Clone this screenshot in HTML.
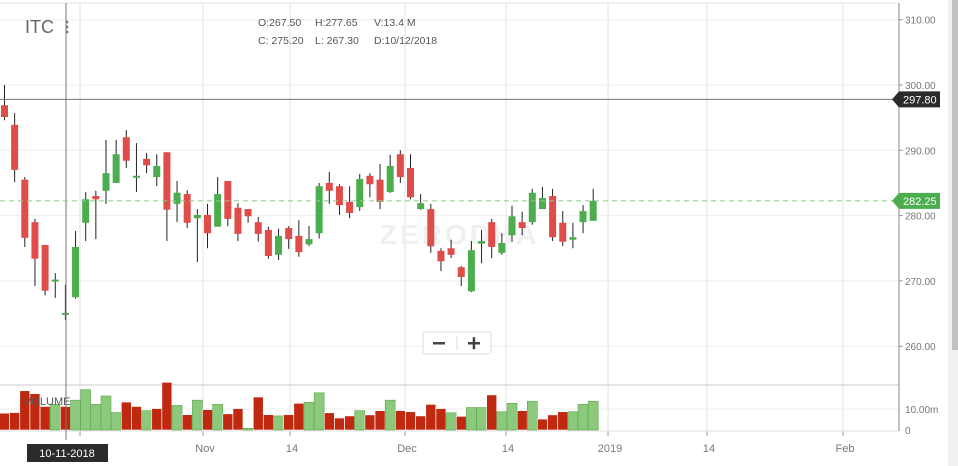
<!DOCTYPE html>
<html><head><meta charset="utf-8"><style>
body{margin:0;background:#fff;font-family:"Liberation Sans",sans-serif;}
#wrap{position:relative;width:958px;height:466px;overflow:hidden;background:#fff}
svg text{font-family:"Liberation Sans",sans-serif}
</style></head><body>
<div id="wrap">
<svg id="chart" width="958" height="466"></svg>
</div>
<script>
const opens=[296.9,293.9,285.5,279.0,275.5,270.0,264.9,267.5,278.9,283.0,283.8,285.0,292.0,286.1,288.7,285.9,289.7,281.8,283.3,279.6,280.1,278.3,285.3,281.2,281.0,279.0,277.8,274.0,278.1,276.9,275.6,277.3,285.0,284.5,282.1,281.3,286.1,285.5,283.6,289.4,287.3,281.0,281.0,274.6,275.0,272.1,268.4,275.7,279.0,274.3,277.0,279.0,279.0,281.0,283.0,278.9,276.3,279.0,279.2];
const highs=[300.0,295.7,285.9,279.5,275.5,271.2,269.4,277.65,283.6,283.8,291.6,291.6,293.1,291.1,289.6,289.4,289.7,285.3,283.9,281.0,281.8,285.9,285.3,281.9,281.0,279.8,278.3,278.0,278.4,279.3,278.4,285.0,286.7,284.8,284.5,286.4,286.5,287.9,289.3,290.0,289.4,283.3,281.8,275.0,276.3,272.3,276.1,277.8,279.5,277.3,281.5,280.6,284.1,284.4,284.1,280.7,278.9,281.6,284.1];
const lows=[294.6,285.1,275.2,269.2,267.8,267.4,264.0,267.3,276.1,276.4,281.8,285.0,287.3,283.6,286.5,284.5,276.1,279.0,278.1,272.9,275.0,278.3,278.4,276.1,278.9,276.0,273.4,273.2,274.9,273.7,275.3,276.5,281.8,280.1,279.6,280.7,282.8,281.0,283.5,285.0,282.5,280.9,274.3,271.5,273.5,269.2,268.3,272.7,273.5,274.0,276.0,277.0,278.6,281.0,276.1,275.3,275.0,277.3,279.2];
const closes=[295.1,287.0,276.6,273.4,268.5,270.2,265.1,275.2,282.5,282.5,286.5,289.4,288.4,286.1,287.7,287.6,280.9,283.5,278.9,280.1,277.3,283.3,279.5,277.2,279.9,277.2,273.8,276.9,276.4,274.4,276.4,284.5,283.8,281.6,280.4,285.6,284.8,282.1,287.6,285.9,282.8,281.9,275.3,273.0,274.0,270.6,274.7,276.1,275.2,275.8,279.9,278.1,283.5,282.7,276.7,276.0,276.7,280.7,282.25];
const volumes=[8.0,8.3,18.7,17.3,11.2,12.2,11.2,14.2,19.2,12.2,16.2,8.3,13.3,11.2,9.2,10.2,22.7,11.7,7.3,14.2,9.7,12.2,7.7,10.2,0.8,15.7,7.3,6.7,7.3,12.7,13.2,17.7,8.2,5.7,6.7,9.2,7.2,9.2,14.2,9.2,8.7,6.7,12.2,10.2,8.2,6.5,10.7,10.7,16.7,8.7,12.7,9.2,13.7,5.2,7.2,8.7,8.7,12.2,13.7];
const volUp=[0,0,0,0,0,1,0,1,1,1,1,1,0,0,1,0,0,1,0,1,0,1,0,0,1,0,0,1,0,0,1,1,0,0,0,1,0,0,1,0,0,0,0,0,1,0,1,1,0,1,1,0,1,0,0,0,1,1,1];
const priceTicks=[310,300,290,280,270,260];
const dateLabels=["14","Nov","14","Dec","14","2019","14","Feb"];
const dateIndex=[7.44,19.56,28.13,39.46,49.41,59.46,69.21,82.61];

const svg=document.getElementById('chart');
const NS='http://www.w3.org/2000/svg';
function mk(t,a,parent){const e=document.createElementNS(NS,t);for(const k in a)e.setAttribute(k,a[k]);(parent||svg).appendChild(e);return e;}
const yP=p=>85+(300-p)*6.53;
const xI=i=>4.5+i*10.15;
const yV=v=>430-v*2.1;

let e=mk('line',{x1:0,y1:3,x2:899,y2:3,stroke:'#e6e6e6'});

priceTicks.forEach(p=>{
 let g=mk('line',{x1:0,y1:yP(p),x2:899,y2:yP(p),stroke:'#eeeeee'});
 
 let t=mk('text',{x:905,y:yP(p)+4,'font-size':10,fill:'#777'});t.textContent=p.toFixed(2);
 
 let tk=mk('line',{x1:899,y1:yP(p),x2:903,y2:yP(p),stroke:'#999'});
 
});
dateLabels.forEach((d,k)=>{
 const x=xI(dateIndex[k]);
 let g=mk('line',{x1:x,y1:3,x2:x,y2:430,stroke:'#e3e3e3'});
 
 let tk=mk('line',{x1:x,y1:431,x2:x,y2:436,stroke:'#999'});
 
 let t=mk('text',{x:x+2,y:452,'font-size':11,fill:'#777','text-anchor':'middle'});t.textContent=d;
 
});
e=mk('line',{x1:0,y1:385,x2:899,y2:385,stroke:'#c8c8c8'});

e=mk('line',{x1:0,y1:yV(10),x2:899,y2:yV(10),stroke:'#eeeeee'});

e=mk('line',{x1:0,y1:431,x2:899,y2:431,stroke:'#e0e0e0'});

e=mk('text',{x:905,y:yV(10)+4,'font-size':10,fill:'#777'});e.textContent='10.00m';

e=mk('text',{x:905,y:434,'font-size':10,fill:'#777'});e.textContent='0';

e=mk('line',{x1:899,y1:3,x2:899,y2:431,stroke:'#888'});

e=mk('text',{x:380,y:244,'font-size':28,fill:'#f0f0f0','font-weight':'bold','letter-spacing':'3'});e.textContent='ZERODHA';

volumes.forEach((v,i)=>{
 const x=xI(i);
 let b=mk('rect',{x:x-5,y:yV(v),width:10,height:430-yV(v),fill:volUp[i]?'#8cc97c':'#c0290f',stroke:volUp[i]?'#5aa84a':'#fff','stroke-width':0.6});
 
});
e=mk('text',{x:24,y:405,'font-size':11,fill:'#555'});e.textContent='VOLUME';

opens.forEach((o,i)=>{
 const c=closes[i],x=xI(i),up=c>=o;
 const col=up?'#4cad4e':'#e04c4a';
 let w=mk('line',{x1:x,y1:yP(highs[i]),x2:x,y2:yP(lows[i]),stroke:'#222','stroke-width':1});
 
 const top=yP(Math.max(o,c)),h=Math.max(2,Math.abs(yP(o)-yP(c)));
 let b=mk('rect',{x:x-3.5,y:top,width:7,height:h,fill:col});
 
});
e=mk('line',{x1:66,y1:3,x2:66,y2:440,stroke:'#777'});

e=mk('line',{x1:0,y1:yP(297.8),x2:899,y2:yP(297.8),stroke:'#777'});

e=mk('line',{x1:0,y1:yP(282.25),x2:893,y2:yP(282.25),stroke:'#8ccc8c','stroke-dasharray':'5,4'});

function tag(p,fill,name){
 const y=yP(p);
 let g=mk('path',{d:`M892 ${y} L899 ${y-8} L940 ${y-8} L940 ${y+8} L899 ${y+8} Z`,fill:fill});
 
 let t=mk('text',{x:903,y:y+4,'font-size':11,fill:'#fff'});t.textContent=p.toFixed(2);
 
}
tag(297.8,'#2b2b2b','crosshair-price-label');
tag(282.25,'#4cad4e','last-price-label');
e=mk('rect',{x:27,y:444,width:81,height:18,fill:'#2b2b2b'});

e=mk('text',{x:67,y:457,'font-size':11,fill:'#fff','text-anchor':'middle'});e.textContent='10-11-2018';

e=mk('text',{x:25,y:33,'font-size':18,fill:'#666'});e.textContent='ITC';

[22,27,32].forEach(y=>{let d=mk('circle',{cx:67,cy:y,r:1.4,fill:'#777'});
 });
const hdr=[['O:267.50',258,26],['H:277.65',315,26],['V:13.4 M',374,26],['C: 275.20',258,44],['L: 267.30',315,44],['D:10/12/2018',374,44]];
hdr.forEach(h=>{let t=mk('text',{x:h[1],y:h[2],'font-size':10.5,fill:'#555'});t.textContent=h[0];
 });
e=mk('rect',{x:423,y:332,width:68,height:22,rx:2,fill:'#fff',stroke:'#ddd'});

e=mk('line',{x1:457,y1:336,x2:457,y2:350,stroke:'#ddd'});

e=mk('rect',{x:433,y:342,width:12,height:2.5,fill:'#444'});

e=mk('path',{d:'M468 342h12v2.5h-12z M472.7 337.3h2.5v12h-2.5z',fill:'#444'});

e=mk('rect',{x:948,y:0,width:10,height:466,fill:'#f1f1f1'});

e=mk('rect',{x:952,y:0,width:6,height:350,fill:'#c1c1c1'});

</script>
</body></html>
